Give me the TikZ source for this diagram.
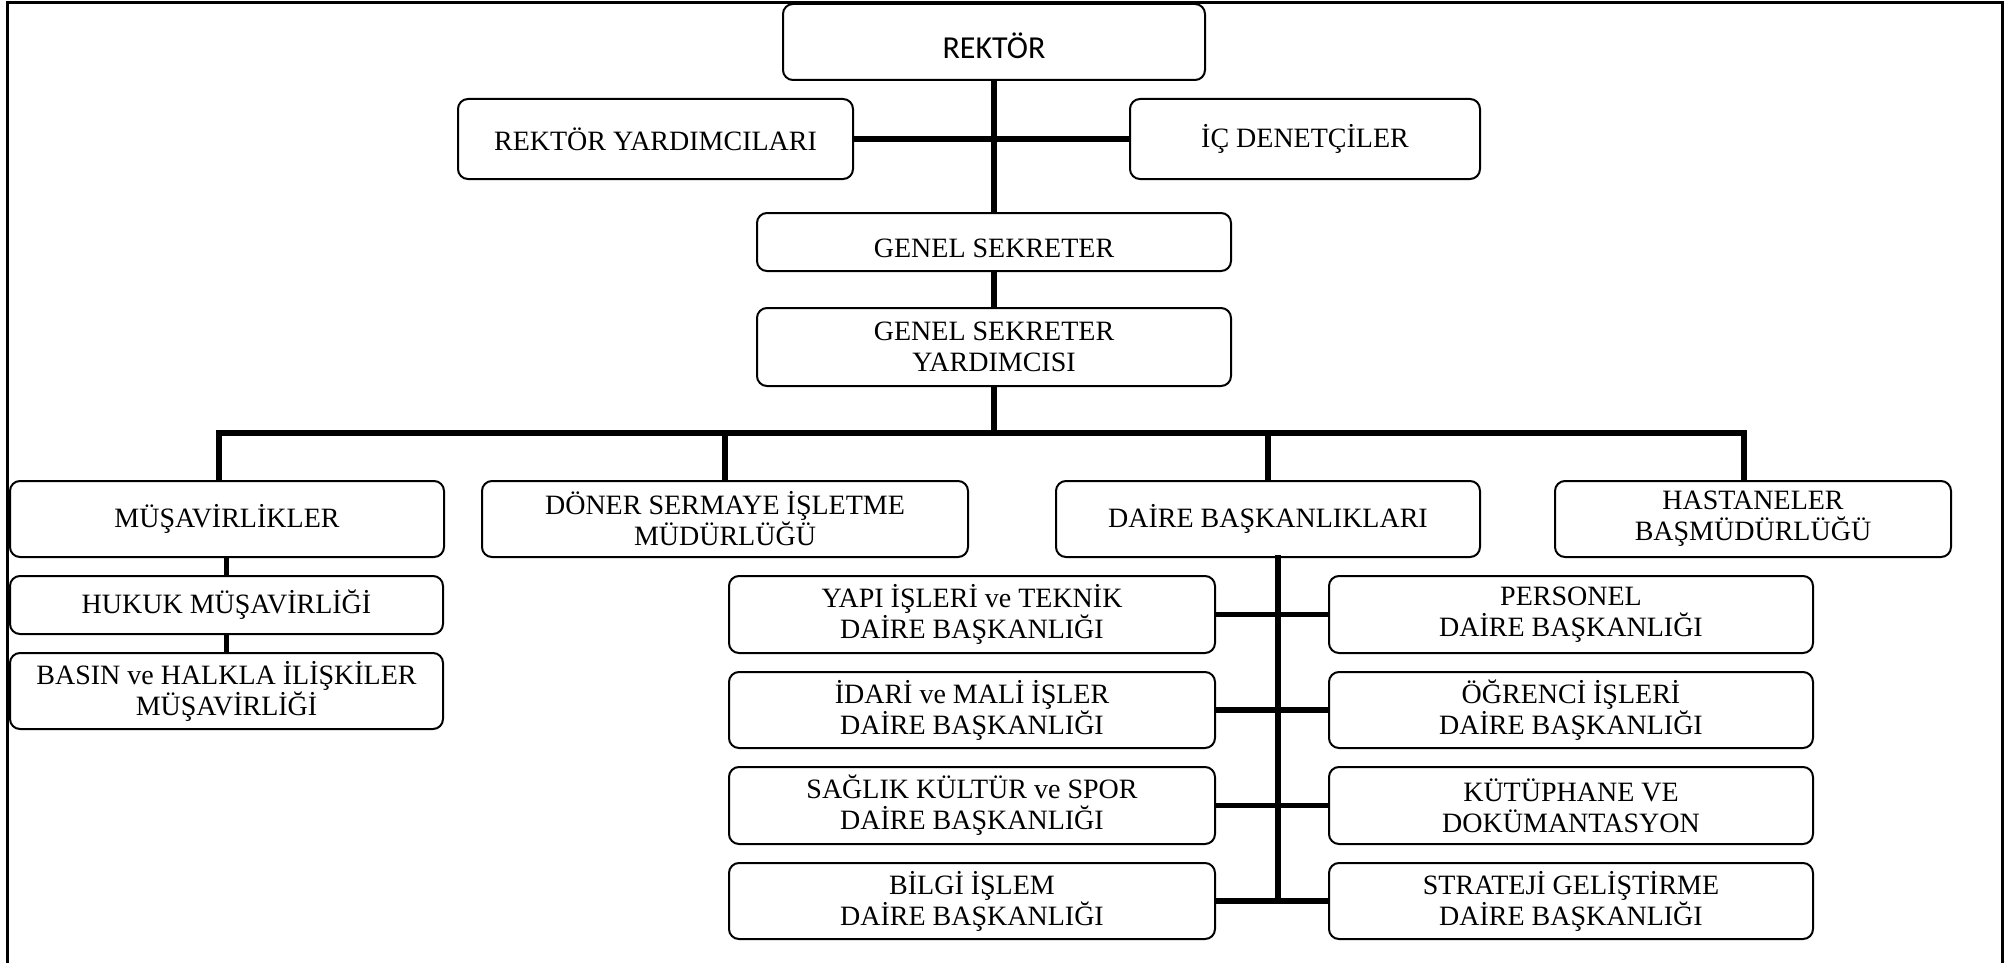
\documentclass[tikz,border=0pt]{standalone}
\usepackage{fontspec}
\setmainfont{Liberation Serif}
\newfontfamily\calfont{Carlito}
\begin{document}
\begin{tikzpicture}[x=1pt,y=-1pt,
  bx/.style={draw=black,line width=2pt,rounded corners=10pt,align=center,inner sep=0pt,
    font=\fontsize{28}{31}\selectfont},
  conn/.style={line width=5.5pt,black},
  frame/.style={line width=3pt,black}]
\useasboundingbox (0,0) rectangle (2016,963);
\draw[frame] (7,970) -- (7,3) -- (2002,3) -- (2002,970);
% top part
\node[bx,minimum width=422pt,minimum height=76pt,font=\calfont\fontsize{32}{36}\selectfont,text height=33pt,text depth=0pt] (rektor) at (994,42) {REKTÖR};
\node[bx,minimum width=395pt,minimum height=80pt] (ry) at (655.5,139) {REKTÖR YARDIMCILARI};
\node[bx,minimum width=350pt,minimum height=80pt] (ic) at (1305,139) {İÇ DENETÇİLER};
\node[bx,minimum width=474pt,minimum height=58pt,text height=30pt,text depth=0pt] (gs) at (994,242) {GENEL SEKRETER};
\node[bx,minimum width=474pt,minimum height=78pt] (gsy) at (994,347) {GENEL SEKRETER\\YARDIMCISI};
% second row
\node[bx,minimum width=434pt,minimum height=76pt] (mus) at (227,519) {MÜŞAVİRLİKLER};
\node[bx,minimum width=486pt,minimum height=76pt] (doner) at (725,519) {DÖNER SERMAYE İŞLETME\\MÜDÜRLÜĞÜ};
\node[bx,minimum width=424pt,minimum height=76pt] (daire) at (1268,519) {DAİRE BAŞKANLIKLARI};
\node[bx,minimum width=396pt,minimum height=76pt] (hast) at (1753,519) {HASTANELER\\BAŞMÜDÜRLÜĞÜ};
% müşavirlikler
\node[bx,minimum width=433pt,minimum height=58pt] (hukuk) at (226.5,605) {HUKUK MÜŞAVİRLİĞİ};
\node[bx,minimum width=433pt,minimum height=76pt] (basin) at (226.5,691) {BASIN ve HALKLA İLİŞKİLER\\MÜŞAVİRLİĞİ};
% daire başkanlıkları
\node[bx,minimum width=486pt,minimum height=77pt] (yapi) at (972,614.5) {YAPI İŞLERİ ve TEKNİK\\DAİRE BAŞKANLIĞI};
\node[bx,minimum width=486pt,minimum height=76pt] (idari) at (972,710) {İDARİ ve MALİ İŞLER\\DAİRE BAŞKANLIĞI};
\node[bx,minimum width=486pt,minimum height=77pt] (saglik) at (972,805.5) {SAĞLIK KÜLTÜR ve SPOR\\DAİRE BAŞKANLIĞI};
\node[bx,minimum width=486pt,minimum height=76pt] (bilgi) at (972,901) {BİLGİ İŞLEM\\DAİRE BAŞKANLIĞI};
\node[bx,minimum width=484pt,minimum height=77pt] (personel) at (1571,614.5) {PERSONEL\\DAİRE BAŞKANLIĞI};
\node[bx,minimum width=484pt,minimum height=76pt] (ogrenci) at (1571,710) {ÖĞRENCİ İŞLERİ\\DAİRE BAŞKANLIĞI};
\node[bx,minimum width=484pt,minimum height=77pt] (kutup) at (1571,805.5) {KÜTÜPHANE VE\\DOKÜMANTASYON};
\node[bx,minimum width=484pt,minimum height=76pt] (strat) at (1571,901) {STRATEJİ GELİŞTİRME\\DAİRE BAŞKANLIĞI};
% coordinates
\coordinate (busL) at (219,433);
\coordinate (busR) at (1744,433);
\coordinate (sp) at (1278,0);
% connectors
\draw[conn] (rektor.south) -- (gs.north);
\draw[conn] (ry.east) -- (ic.west);
\draw[conn] (gs.south) -- (gsy.north);
\draw[conn] (gsy.south) -- (gsy.south |- busL);
\draw[conn] (busL |- mus.north) -- (busL) -- (busR) -- (busR |- hast.north);
\draw[conn] (doner.north |- busL) -- (doner.north);
\draw[conn] (daire.north |- busL) -- (daire.north);
\draw[conn,line width=5pt] (hukuk.north) -- (hukuk.north |- mus.south);
\draw[conn,line width=5pt] (basin.north) -- (basin.north |- hukuk.south);
\draw[conn,line cap=rect] (sp |- daire.south) -- (sp |- bilgi.east);
\draw[conn] (yapi.east) -- (personel.west);
\draw[conn] (idari.east) -- (ogrenci.west);
\draw[conn] (saglik.east) -- (kutup.west);
\draw[conn] (bilgi.east) -- (strat.west);
\end{tikzpicture}
\end{document}
